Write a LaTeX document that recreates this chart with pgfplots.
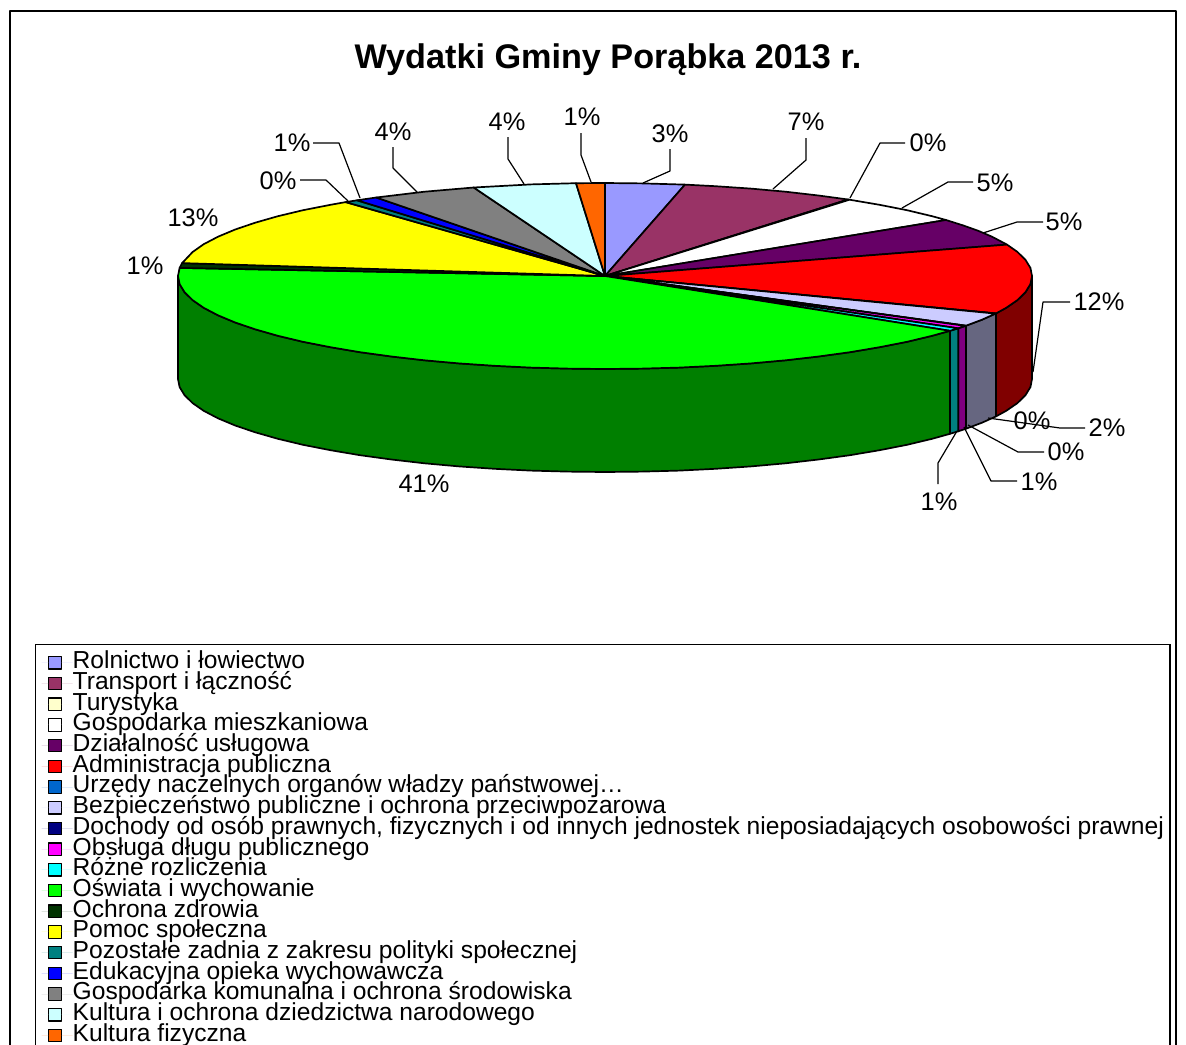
\documentclass[border=0pt]{standalone}
\usepackage{fontspec}
\setmainfont{Liberation Sans}
\usepackage{pgfplots}
\pgfplotsset{compat=1.18}
\definecolor{c1}{HTML}{9999FF}
\definecolor{c2}{HTML}{993366}
\definecolor{c3}{HTML}{FFFFCC}
\definecolor{c4}{HTML}{FFFFFF}
\definecolor{c5}{HTML}{660066}
\definecolor{c6}{HTML}{FF0000}
\definecolor{c7}{HTML}{0066CC}
\definecolor{c8}{HTML}{CCCCFF}
\definecolor{c9}{HTML}{000080}
\definecolor{c10}{HTML}{FF00FF}
\definecolor{c11}{HTML}{00FFFF}
\definecolor{c12}{HTML}{00FF00}
\definecolor{c13}{HTML}{003300}
\definecolor{c14}{HTML}{FFFF00}
\definecolor{c15}{HTML}{008080}
\definecolor{c16}{HTML}{0000FF}
\definecolor{c17}{HTML}{808080}
\definecolor{c18}{HTML}{CCFFFF}
\definecolor{c19}{HTML}{FF6600}
\definecolor{sred}{HTML}{800000}
\definecolor{slav}{HTML}{666680}
\definecolor{smag}{HTML}{800080}
\definecolor{steal}{HTML}{008080}
\definecolor{sgreen}{HTML}{007F00}
\begin{document}
\begin{tikzpicture}
\path[use as bounding box] (0,0) rectangle (593pt,522pt);
\begin{axis}[
  at={(0,0)}, anchor=south west,
  scale only axis, width=593pt, height=522pt,
  xmin=0, xmax=1186, ymin=0, ymax=1044, y dir=reverse,
  hide axis, clip=false,
  legend style={
    at={(axis cs:35,644)}, anchor=north west,
    draw=black, line width=.7pt, fill=white,
    font=\fontsize{12.3}{10}\selectfont,
    row sep=0pt, inner xsep=3pt, inner ysep=3.9pt,
    nodes={inner sep=0pt, text height=8.1pt, text depth=2.25pt, anchor=west},
    legend cell align=left,
  },
  legend image code/.code={\draw[#1,line width=.6pt] (0pt,-3.1pt) rectangle (6.5pt,3.1pt);\path[draw=none] (-3.5pt,0pt) -- (12pt,0pt);},
  every axis plot/.append style={line join=round},
]
% chart frame
\addplot[forget plot, draw=black, line width=1pt] coordinates {(9.5,1050)(9.5,11)(1176,11)(1176,1050)};
% side walls
\addplot[forget plot, fill=sred, draw=black, line width=.85pt] coordinates {(1032,276)(1030.4,284.1)(1025.5,292.1)(1017.4,300.1)(1006.2,307.8)(996,313.4)(996,416.4)(1006.2,410.8)(1017.4,403.1)(1025.5,395.1)(1030.4,387.1)(1032,379)} -- cycle;
\addplot[forget plot, fill=slav, draw=black, line width=.85pt] coordinates {(996,313.4)(982,319.7)(966,325.7)(966,428.7)(982,422.7)(996,416.4)} -- cycle;
\addplot[forget plot, fill=smag, draw=black, line width=.85pt] coordinates {(966,325.7)(958.2,328.3)(958.2,431.3)(966,428.7)} -- cycle;
\addplot[forget plot, fill=steal, draw=black, line width=.85pt] coordinates {(958.2,328.3)(950,330.8)(950,433.8)(958.2,431.3)} -- cycle;
\addplot[forget plot, fill=sgreen, draw=black, line width=.85pt] coordinates {(950,330.8)(932.1,335.8)(907,341.8)(879.5,347.2)(849.9,352.2)(818.5,356.5)(785.5,360.3)(751,363.4)(715.5,365.8)(679.1,367.6)(642.2,368.6)(605,369)(567.8,368.6)(530.9,367.6)(494.5,365.8)(459,363.4)(424.5,360.3)(391.5,356.5)(360.1,352.2)(330.5,347.2)(303,341.8)(277.9,335.8)(255.2,329.3)(235.2,322.5)(218,315.3)(203.7,307.8)(192.6,300.1)(184.5,292.1)(179.6,284.1)(178,276)(178,379)(179.6,387.1)(184.5,395.1)(192.6,403.1)(203.7,410.8)(218,418.3)(235.2,425.5)(255.2,432.3)(277.9,438.8)(303,444.8)(330.5,450.2)(360.1,455.2)(391.5,459.5)(424.5,463.3)(459,466.4)(494.5,468.8)(530.9,470.6)(567.8,471.6)(605,472)(642.2,471.6)(679.1,470.6)(715.5,468.8)(751,466.4)(785.5,463.3)(818.5,459.5)(849.9,455.2)(879.5,450.2)(907,444.8)(932.1,438.8)(950,433.8)} -- cycle;
% top wedges
\addplot[fill=c1, draw=black, line width=.85pt] coordinates {(605,276)(605,183)(642.2,183.4)(685,184.6)} -- cycle;
\addlegendentry{Rolnictwo i łowiectwo}
\addplot[fill=c2, draw=black, line width=.85pt] coordinates {(605,276)(685,184.6)(715.5,186.2)(751,188.6)(785.5,191.7)(818.5,195.5)(848.1,199.5)} -- cycle;
\addlegendentry{Transport i łączność}
\addplot[fill=c3, draw=black, line width=.85pt] coordinates {(605,276)(848.1,199.5)(849.5,199.7)} -- cycle;
\addlegendentry{Turystyka}
\addplot[fill=c4, draw=black, line width=.85pt] coordinates {(605,276)(849.5,199.7)(879.5,204.8)(907,210.2)(932.1,216.2)(946,220)} -- cycle;
\addlegendentry{Gospodarka mieszkaniowa}
\addplot[fill=c5, draw=black, line width=.85pt] coordinates {(605,276)(946,220)(963.1,225.4)(978.5,230.9)(992,236.7)(1007,244.6)} -- cycle;
\addlegendentry{Działalność usługowa}
\addplot[fill=c6, draw=black, line width=.85pt] coordinates {(605,276)(1007,244.6)(1017.4,251.9)(1025.5,259.9)(1030.4,267.9)(1032,276)(1030.4,284.1)(1025.5,292.1)(1017.4,300.1)(1006.2,307.8)(996,313.4)} -- cycle;
\addlegendentry{Administracja publiczna}
\addplot[fill=c7, draw=black, line width=.85pt] coordinates {(605,276)(996,313.4)(995.5,313.6)} -- cycle;
\addlegendentry{Urzędy naczelnych organów władzy państwowej…}
\addplot[fill=c8, draw=black, line width=.85pt] coordinates {(605,276)(995.5,313.6)(982,319.7)(966,325.7)} -- cycle;
\addlegendentry{Bezpieczeństwo publiczne i ochrona przeciwpożarowa}
\addplot[fill=c9, draw=black, line width=.85pt] coordinates {(605,276)(966,325.7)(965.5,325.9)} -- cycle;
\addlegendentry{Dochody od osób prawnych, fizycznych i od innych jednostek nieposiadających osobowości prawnej}
\addplot[fill=c10, draw=black, line width=.85pt] coordinates {(605,276)(965.5,325.9)(958.2,328.3)} -- cycle;
\addlegendentry{Obsługa długu publicznego}
\addplot[fill=c11, draw=black, line width=.85pt] coordinates {(605,276)(958.2,328.3)(950,330.8)} -- cycle;
\addlegendentry{Różne rozliczenia}
\addplot[fill=c12, draw=black, line width=.85pt] coordinates {(605,276)(950,330.8)(932.1,335.8)(907,341.8)(879.5,347.2)(849.9,352.2)(818.5,356.5)(785.5,360.3)(751,363.4)(715.5,365.8)(679.1,367.6)(642.2,368.6)(605,369)(567.8,368.6)(530.9,367.6)(494.5,365.8)(459,363.4)(424.5,360.3)(391.5,356.5)(360.1,352.2)(330.5,347.2)(303,341.8)(277.9,335.8)(255.2,329.3)(235.2,322.5)(218,315.3)(203.7,307.8)(192.6,300.1)(184.5,292.1)(179.6,284.1)(178,276)(179.6,267.9)} -- cycle;
\addlegendentry{Oświata i wychowanie}
\addplot[fill=c13, draw=black, line width=.85pt] coordinates {(605,276)(179.6,267.9)(182.1,263.1)} -- cycle;
\addlegendentry{Ochrona zdrowia}
\addplot[fill=c14, draw=black, line width=.85pt] coordinates {(605,276)(182.1,263.1)(192.6,252)(203.7,244.2)(218,236.7)(235.2,229.5)(255.2,222.7)(277.9,216.2)(303,210.2)(330.5,204.8)(345.6,202.1)} -- cycle;
\addlegendentry{Pomoc społeczna}
\addplot[fill=c15, draw=black, line width=.85pt] coordinates {(605,276)(345.6,202.1)(357,200.3)} -- cycle;
\addlegendentry{Pozostałe zadnia z zakresu polityki społecznej}
\addplot[fill=c16, draw=black, line width=.85pt] coordinates {(605,276)(357,200.3)(376.2,197.5)} -- cycle;
\addlegendentry{Edukacyjna opieka wychowawcza}
\addplot[fill=c17, draw=black, line width=.85pt] coordinates {(605,276)(376.2,197.5)(424.5,191.7)(473.7,187.5)} -- cycle;
\addlegendentry{Gospodarka komunalna i ochrona środowiska}
\addplot[fill=c18, draw=black, line width=.85pt] coordinates {(605,276)(473.7,187.5)(530.9,184.4)(576,183.2)} -- cycle;
\addlegendentry{Kultura i ochrona dziedzictwa narodowego}
\addplot[fill=c19, draw=black, line width=.85pt] coordinates {(605,276)(576,183.2)(605,183)} -- cycle;
\addlegendentry{Kultura fizyczna}
% leader lines
\pgfplotsset{leader/.style={forget plot, draw=black, line width=.6pt}}
\addplot[leader] coordinates {(643,183)(670,171)(670,149)};
\addplot[leader] coordinates {(773,189)(806,160)(806,138)};
\addplot[leader] coordinates {(850,198)(880,143)(905,143)};
\addplot[leader] coordinates {(902,208)(948,182)(973,182)};
\addplot[leader] coordinates {(983,233)(1017,222)(1043,222)};
\addplot[leader] coordinates {(1033,372)(1043,302)(1070,302)};
\addplot[leader] coordinates {(988,418)(1060,428)(1085,428)};
\addplot[leader] coordinates {(968,425)(1018,452)(1044,452)};
\addplot[leader] coordinates {(964,427)(991,481)(1017,481)};
\addplot[leader] coordinates {(957,431)(938,463)(938,484)};
\addplot[leader] coordinates {(348,201)(326,180)(300,180)};
\addplot[leader] coordinates {(360,198)(339,143)(313,143)};
\addplot[leader] coordinates {(417,192)(393,168)(393,147)};
\addplot[leader] coordinates {(524,184)(508,159)(508,137)};
\addplot[leader] coordinates {(591,182)(581,155)(581,133)};
% texts
\node[font=\bfseries\fontsize{17.1}{17.1}\selectfont] at (axis cs:608,60) {Wydatki Gminy Porąbka 2013 r.};
\tikzset{pct/.style={font=\fontsize{12.7}{12.7}\selectfont, inner sep=0pt}}
\node[pct] at (axis cs:670,134) {3\%};
\node[pct] at (axis cs:806,122) {7\%};
\node[pct] at (axis cs:928,143) {0\%};
\node[pct] at (axis cs:995,183) {5\%};
\node[pct] at (axis cs:1064,222) {5\%};
\node[pct] at (axis cs:1099,302) {12\%};
\node[pct] at (axis cs:1032,421) {0\%};
\node[pct] at (axis cs:1107,428) {2\%};
\node[pct] at (axis cs:1066,452) {0\%};
\node[pct] at (axis cs:1039,482) {1\%};
\node[pct] at (axis cs:939,502) {1\%};
\node[pct] at (axis cs:424,484) {41\%};
\node[pct] at (axis cs:145,266) {1\%};
\node[pct] at (axis cs:193,218) {13\%};
\node[pct] at (axis cs:278,181) {0\%};
\node[pct] at (axis cs:292,143) {1\%};
\node[pct] at (axis cs:393,132) {4\%};
\node[pct] at (axis cs:507,122) {4\%};
\node[pct] at (axis cs:582,117) {1\%};
\end{axis}
\end{tikzpicture}
\end{document}
